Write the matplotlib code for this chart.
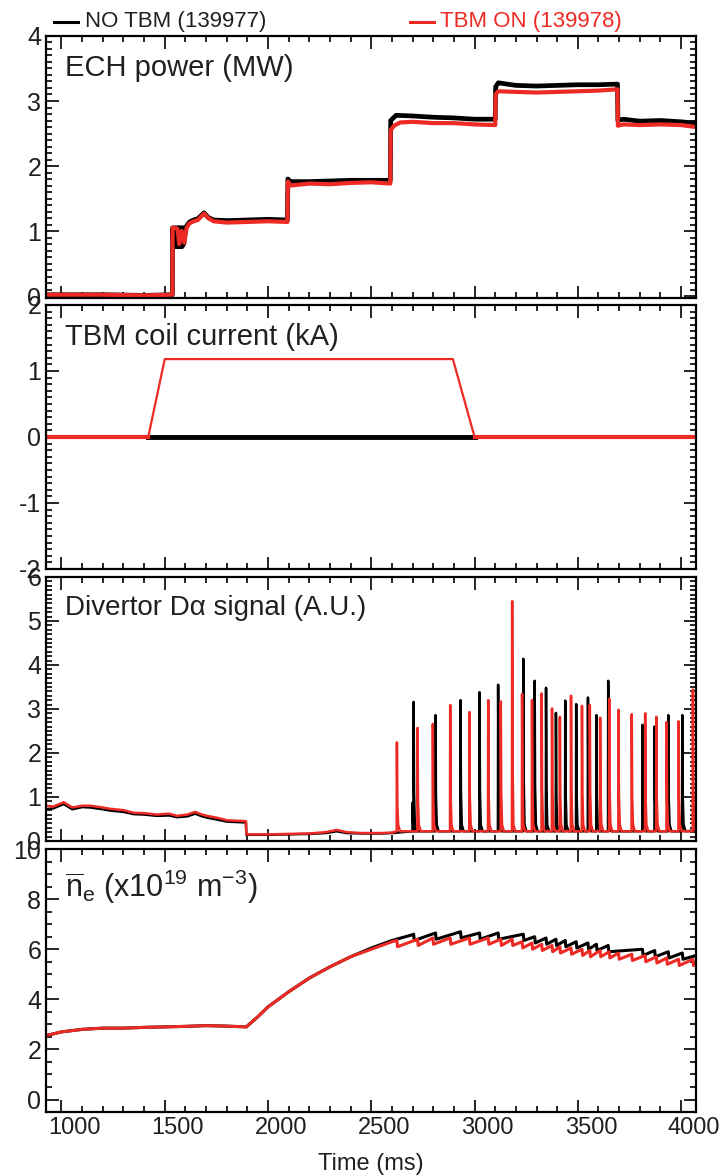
import matplotlib
matplotlib.use("Agg")
from matplotlib import pyplot as plt
from matplotlib.ticker import MultipleLocator
from matplotlib.lines import Line2D
import matplotlib.transforms as mtransforms

plt.rcParams['font.family'] = ['Liberation Sans', 'DejaVu Sans']
plt.rcParams['mathtext.fontset'] = 'custom'
plt.rcParams['mathtext.rm'] = 'Liberation Sans'
plt.rcParams['mathtext.it'] = 'Liberation Sans:italic'
plt.rcParams['axes.unicode_minus'] = False

RED = '#ee2a24'
INK = '#231f20'

# ---- ECH power (MW) ----
ech_t_red = [925, 1200, 1400, 1537, 1538, 1550, 1562, 1570, 1582, 1595, 1606, 1620, 1640, 1660, 1690, 1710,
             1736, 1800, 1900, 2000, 2094, 2096, 2110, 2200, 2300, 2400, 2500, 2592, 2594, 2610, 2640, 2700,
             2800, 2900, 3000, 3100, 3102, 3115, 3200, 3300, 3400, 3500, 3600, 3692, 3694, 3720, 3800, 3900,
             4000, 4072]
ech_red = [0.02, 0.02, 0.01, 0.02, 1.05, 1.05, 1.03, 0.80, 1.00, 0.82, 1.05, 1.12, 1.15, 1.17, 1.27, 1.20,
           1.15, 1.13, 1.14, 1.15, 1.14, 1.76, 1.70, 1.73, 1.72, 1.74, 1.75, 1.73, 2.55, 2.62, 2.67, 2.68,
           2.66, 2.66, 2.64, 2.63, 3.10, 3.15, 3.14, 3.13, 3.14, 3.15, 3.16, 3.18, 2.62, 2.64, 2.63, 2.64,
           2.63, 2.60]
ech_t_blk = [925, 1200, 1400, 1537, 1538, 1544, 1548, 1552, 1556, 1560, 1564, 1568, 1572, 1576, 1580, 1584,
             1588, 1592, 1600, 1620, 1640, 1660, 1690, 1710, 1736, 1800, 1900, 2000, 2094, 2096, 2110, 2200,
             2300, 2400, 2500, 2592, 2594, 2620, 2700, 2800, 2900, 3000, 3100, 3102, 3115, 3200, 3300, 3400,
             3500, 3600, 3692, 3694, 3720, 3800, 3900, 4000, 4072]
ech_blk = [0.02, 0.02, 0.01, 0.02, 1.05, 0.76, 1.05, 0.76, 1.05, 0.76, 1.05, 0.76, 1.05, 0.76, 1.05, 0.76,
           1.05, 0.80, 1.05, 1.14, 1.17, 1.19, 1.28, 1.21, 1.17, 1.16, 1.17, 1.18, 1.17, 1.80, 1.76, 1.76,
           1.77, 1.78, 1.78, 1.78, 2.70, 2.78, 2.77, 2.75, 2.74, 2.72, 2.72, 3.22, 3.28, 3.24, 3.23, 3.24,
           3.25, 3.25, 3.26, 2.70, 2.72, 2.69, 2.70, 2.68, 2.66]

# ---- TBM coil current (kA) ----
tbm_t_red = [925, 1420, 1500, 2895, 3000, 4072]
tbm_red = [0.0, 0.0, 1.18, 1.18, 0.0, 0.0]
tbm_t_blk = [925, 4072]
tbm_blk = [0.0, 0.0]

# ---- Divertor D-alpha (A.U.) ----
da_t_red = [925, 960, 1011, 1052, 1100, 1140, 1200, 1237, 1300, 1349, 1400, 1463, 1520, 1559, 1610, 1647,
            1680, 1705, 1760, 1801, 1850, 1893, 1895, 2000, 2100, 2200, 2280, 2332, 2380, 2450, 2550, 2600]
da_red = [0.80, 0.78, 0.88, 0.76, 0.80, 0.80, 0.76, 0.73, 0.70, 0.64, 0.63, 0.60, 0.62, 0.57, 0.60, 0.66,
          0.60, 0.57, 0.52, 0.47, 0.46, 0.45, 0.15, 0.15, 0.16, 0.17, 0.20, 0.25, 0.20, 0.18, 0.18, 0.19]
da_t_blk = [925, 960, 1011, 1052, 1100, 1140, 1200, 1237, 1300, 1349, 1400, 1463, 1520, 1559, 1610, 1647,
            1680, 1705, 1760, 1801, 1850, 1893, 1895, 2000, 2100, 2200, 2280, 2332, 2380, 2450, 2550, 2600]
da_blk = [0.72, 0.74, 0.84, 0.72, 0.77, 0.76, 0.72, 0.69, 0.66, 0.61, 0.60, 0.57, 0.58, 0.54, 0.56, 0.62,
          0.56, 0.53, 0.48, 0.44, 0.43, 0.42, 0.14, 0.14, 0.15, 0.16, 0.18, 0.22, 0.18, 0.17, 0.17, 0.18]
da_elm_base = 0.22

# ELM times (ms) and peak heights
elm_t_blk = [2700, 2705, 2811, 2932, 3024, 3114, 3236, 3291, 3346, 3394, 3439, 3492, 3549, 3590, 3647,
             3813, 3872, 3938, 4006]
elm_h_blk = [0.87, 3.16, 2.86, 3.20, 3.38, 3.55, 4.14, 3.64, 3.48, 2.91, 3.19, 3.11, 3.26, 2.86, 3.64,
             2.64, 2.60, 2.86, 2.86]
elm_t_red = [2624, 2724, 2798, 2882, 2975, 3066, 3127, 3182, 3230, 3278, 3325, 3375, 3413, 3467, 3520,
             3558, 3608, 3652, 3697, 3761, 3826, 3880, 3930, 3988, 4057]
elm_h_red = [2.24, 2.57, 2.66, 3.09, 2.93, 3.20, 3.17, 5.45, 3.34, 3.20, 3.35, 3.01, 2.82, 3.30, 3.07,
             3.09, 2.80, 3.23, 2.98, 2.88, 2.90, 2.82, 2.70, 2.72, 3.44]

# ---- line-averaged density (1e19 m^-3) ----
ne_t_blk = [925, 1000, 1100, 1200, 1300, 1400, 1500, 1600, 1700, 1800, 1895, 1950, 2000, 2100, 2200,
            2300, 2400, 2500, 2600, 2700]
ne_blk = [2.55, 2.70, 2.80, 2.85, 2.85, 2.88, 2.90, 2.92, 2.95, 2.93, 2.90, 3.30, 3.70, 4.30, 4.85,
          5.30, 5.70, 6.05, 6.35, 6.58]
ne_elm_blk = [6.60, 6.65, 6.70, 6.65, 6.65, 6.60, 6.50, 6.45, 6.40, 6.35, 6.30, 6.25, 6.20, 6.15, 6.00,
              5.95, 5.90, 5.85]
ne_end_blk = 5.75
ne_t_red = [925, 1000, 1100, 1200, 1300, 1400, 1500, 1600, 1700, 1800, 1895, 1950, 2000, 2100, 2200,
            2300, 2400, 2500, 2600]
ne_red = [2.55, 2.70, 2.80, 2.85, 2.85, 2.88, 2.90, 2.92, 2.95, 2.93, 2.90, 3.30, 3.70, 4.30, 4.85,
          5.30, 5.70, 6.00, 6.30]
ne_elm_red = [6.35, 6.40, 6.45, 6.45, 6.45, 6.45, 6.40, 6.40, 6.30, 6.25, 6.20, 6.15, 6.10, 6.05, 6.00,
              5.95, 5.95, 5.90, 5.85, 5.80, 5.75, 5.70, 5.65, 5.60, 5.60]
ne_end_red = 5.45


def elm_trace(t0, v0, et, eh, base, tend):
    xs, ys = list(t0), list(v0)
    for t, h in zip(et, eh):
        xs += [t - 1, t, t + 2, t + 6, t + 15]
        ys += [base, h, base + 0.3 * (h - base), base + 0.15, base]
    xs.append(tend)
    ys.append(base + 0.02)
    return xs, ys


def ne_trace(t0, v0, et, pre, vend, tend):
    xs, ys = list(t0), list(v0)
    for t, p in zip(et[-len(pre):], pre):
        xs += [t, t + 3]
        ys += [p, p - 0.25]
    xs.append(tend)
    ys.append(vend)
    return xs, ys


fig = plt.figure(figsize=(7.21, 11.76), dpi=100)
L, W = 0.0638, 0.9015
ax1 = fig.add_axes([L, 0.7466, W, 0.2228])
ax2 = fig.add_axes([L, 0.5162, W, 0.2245])
ax3 = fig.add_axes([L, 0.2849, W, 0.2245])
ax4 = fig.add_axes([L, 0.0544, W, 0.2236])

ax1.plot(ech_t_blk, ech_blk, color='black', lw=3.4)
ax1.plot(ech_t_red, ech_red, color=RED, lw=3.0)
ax1.set_ylim(-0.03, 4)
ax1.yaxis.set_major_locator(MultipleLocator(1))
ax1.yaxis.set_minor_locator(MultipleLocator(0.1))

ax2.plot([1420, 3000], [0, 0], color='black', lw=3.5)
ax2.plot(tbm_t_blk, tbm_blk, color='black', lw=1.5)
ax2.plot(tbm_t_red[:2], tbm_red[:2], color=RED, lw=3)
ax2.plot(tbm_t_red[1:5], tbm_red[1:5], color=RED, lw=1.6)
ax2.plot(tbm_t_red[4:], tbm_red[4:], color=RED, lw=3)
ax2.set_ylim(-2, 2)
ax2.yaxis.set_major_locator(MultipleLocator(1))
ax2.yaxis.set_minor_locator(MultipleLocator(0.1))

bx, by = elm_trace(da_t_blk, da_blk, elm_t_blk, elm_h_blk, da_elm_base, 4072)
rx, ry = elm_trace(da_t_red, da_red, elm_t_red, elm_h_red, da_elm_base, 4072)
ax3.plot(bx, by, color='black', lw=1.8)
ax3.plot(rx, ry, color=RED, lw=1.8)
ax3.set_ylim(0, 6)
ax3.yaxis.set_major_locator(MultipleLocator(1))
ax3.yaxis.set_minor_locator(MultipleLocator(0.1))

bx, by = ne_trace(ne_t_blk, ne_blk, elm_t_blk, ne_elm_blk, ne_end_blk, 4072)
rx, ry = ne_trace(ne_t_red, ne_red, elm_t_red, ne_elm_red, ne_end_red, 4072)
ax4.plot(bx, by, color='black', lw=2.2)
ax4.plot(rx, ry, color=RED, lw=2.2)
ax4.set_ylim(-0.5, 10)
ax4.yaxis.set_major_locator(MultipleLocator(2))
ax4.yaxis.set_minor_locator(MultipleLocator(0.5))

titles = ['ECH power (MW)', 'TBM coil current (kA)', 'Divertor D\u03b1 signal (A.U.)',
          r'$\overline{\mathrm{n}}_{\mathrm{e}}$ (x10$^{19}$ m$^{-3}$)']
title_sizes = [21, 21, 20, 22]
for ax, title, fs in zip([ax1, ax2, ax3, ax4], titles, title_sizes):
    ax.set_xlim(925, 4072)
    ax.xaxis.set_major_locator(MultipleLocator(500))
    ax.xaxis.set_minor_locator(MultipleLocator(100))
    ax.tick_params(which='both', direction='in', top=True, right=True, width=1.2,
                   labelsize=18, labelcolor=INK)
    ax.tick_params(which='major', length=9)
    ax.tick_params(which='minor', length=4.5)
    for s in ax.spines.values():
        s.set_linewidth(1.6)
    ax.text(0.03, 0.93, title, transform=ax.transAxes, fontsize=fs, va='top', ha='left', color=INK)
    if ax is not ax4:
        ax.tick_params(labelbottom=False)

ax4.set_xticks([1000, 1500, 2000, 2500, 3000, 3500, 4000])
ax4.set_xticklabels(['1000', '1500', '2000', '2500', '3000', '3500', '4000'])
shift = mtransforms.ScaledTranslation(0.13, 0, fig.dpi_scale_trans)
for lab in ax4.get_xticklabels():
    lab.set_transform(lab.get_transform() + shift)
    lab.set_fontsize(17)
ax4.set_xlabel('Time (ms)', fontsize=17, labelpad=10, color=INK)

# legend across the top
fig.add_artist(Line2D([0.075, 0.108], [0.9815, 0.9815], color='black', lw=2.2, transform=fig.transFigure))
fig.text(0.118, 0.9815, 'NO TBM (139977)', fontsize=16, color=INK, va='center')
fig.add_artist(Line2D([0.569, 0.602], [0.9815, 0.9815], color=RED, lw=2.2, transform=fig.transFigure))
fig.text(0.610, 0.9815, 'TBM ON (139978)', fontsize=16, color=RED, va='center')

plt.savefig('out.png', dpi=100)
